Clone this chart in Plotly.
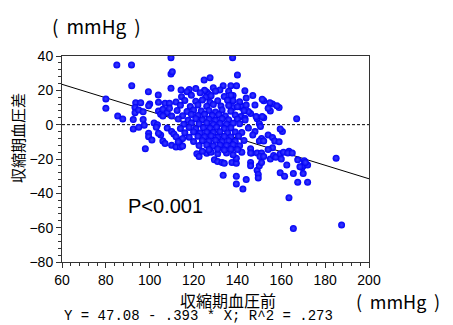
import plotly.graph_objects as go

# ---- data ----
before_outer = [85, 91.7, 109.7, 109.7, 110.3, 91.8, 80, 80, 85.4, 87.7,
                99.4, 103.9, 109.7, 114.3, 124.8, 127.5, 137.8, 140, 133.5, 137,
                139.6, 143.4, 126, 127, 93.6, 95.9, 93.3, 93.3, 95, 92.5,
                92.5, 95, 97, 97.5, 99.5, 99.5, 98, 100, 99.5, 97,
                102, 103.5, 103, 105, 104, 108, 104, 104, 105, 107,
                109, 106, 108, 110, 109, 106, 110, 111, 110, 112,
                114, 115, 114, 115, 121.5, 122.5, 126, 127.5, 129.5, 131,
                133, 134, 133.5, 137.5, 139.5, 139.5, 139.5, 139.5, 142.5, 144,
                146, 146, 149, 150, 149.5, 149.5, 151, 146.5, 149, 151,
                155, 156.5, 157.5, 159.5, 161, 163.5, 159.5, 161.5, 162.5, 165.5,
                167.5, 167.5, 169.5, 170, 170, 170.5, 172, 172, 163.5, 165.5,
                185, 187.5, 138, 138, 138, 142, 152, 156, 159, 155,
                146, 149, 152, 167, 150, 150.5, 160.5, 148, 147, 151,
                150, 152, 154, 156, 157, 159, 156, 154, 146, 146,
                163, 165, 160, 150.3, 152, 158, 159.5, 151.3, 154.8, 154,
                145, 148.5, 151.3, 141.6, 143.4, 141.6, 171, 168.5, 118, 121,
                125, 129, 132, 136, 128, 131, 135, 138, 142, 124,
                101, 106, 112, 107, 144, 147, 148, 113]
diff_outer = [34.8, 34.8, 39, 29.5, 30.8, 22.7, 15, 9.5, 5, 3.3,
              19.2, 17.3, 21.2, 20.2, 26, 27.4, 39, 29, 22.7, 22.7,
              22.7, 19.8, 19, 17.7, 12.8, 12.8, 10, 7, 8.5, 3,
              -2.5, -1.5, 3, -0.3, -5, -7, -14, 12, 11, 7.5,
              1, 0, -1.5, -6, -5, -2, 13, 8, 6, 12.5,
              12.5, 9, 7, 5, 9.5, 5, -4, -5.5, -12, -13,
              -13, -12.5, -9, -8, -17, -18.5, -16.7, -15.7, -20.5, -21.5,
              -22, -22.5, -29.5, -22, -22.5, -19.5, -30, -34.5, -37.5, -32,
              -22, -24, -26.5, -24, -29, -31, -22, -16.5, -16.5, -16.5,
              -20, -18, -19, -17, -16, -15.5, -28, -30, -23.5, -28.5,
              -20.5, -33.5, -25, -24, -28.5, -21, -23.5, -33.5, -42.5, -60.5,
              -19.5, -58.5, 17, 14, 10, 10, 14, 12, 10, 8,
              6.5, 3.5, 4, 3.5, 0.5, -1, -4, -4, -6, -8,
              -9.5, -9.5, -6, -7.5, -9.5, -10, -13.5, -14.5, -14, -16.5,
              -16.5, -16.5, -20, -18.5, -18.5, 11, -2.5, 14.8, 12.8, 9.5,
              7.6, 4.7, 4.7, 4.7, 3.7, 11, -22, -24.5, 20.5, 21,
              20, 21.5, 20.2, 19.5, -16, -17, -16.5, -17.5, -16, -15.5,
              -9, -9.5, -7, -11, 15.5, 17, 11.5, -10]

before_core = [117, 123, 130,
               114.5, 119, 125.5, 128, 134, 137,
               112, 116, 121, 124, 127.5, 131, 135.5, 141,
               114, 118.5, 122, 126, 129, 132.5, 136, 140, 144,
               112.5, 117, 120, 123.5, 127, 130, 133, 137, 143,
               115, 119, 122, 125, 128.5, 131.5, 134.5, 139,
               113, 117.5, 121, 124, 127, 130, 133, 136, 140, 143.5,
               115.5, 119, 122.5, 126, 129, 132, 135, 138, 141,
               114, 118, 121, 124.5, 127.5, 130.5, 134, 137, 145,
               116, 120, 123, 126, 129, 132, 135.5, 139, 142,
               118, 122, 125, 128, 131, 134, 137, 140.5,
               120, 124, 127, 130, 133, 136, 139, 143,
               122.5, 126, 129, 132, 135, 138, 141,
               127, 131, 134, 137, 140]
diff_core = [19.2, 18.6, 19.5,
             16.3, 17.1, 16.0, 16.9, 16.4, 17.2,
             13.2, 14.1, 13.6, 14.4, 13.0, 13.9, 14.2, 13.4,
             11.3, 10.6, 11.5, 10.8, 11.7, 10.9, 11.2, 10.5, 11.4,
             8.3, 7.6, 8.5, 7.9, 8.2, 7.4, 8.6, 7.8, 8.1,
             5.2, 5.9, 5.4, 6.0, 5.3, 5.8, 5.1, 5.6,
             3.3, 2.6, 3.5, 2.8, 3.1, 2.5, 3.4, 2.9, 3.2, 2.7,
             0.2, 0.9, 0.4, 1.0, 0.1, 0.7, 0.3, 0.8, 0.5,
             -2.2, -1.6, -2.4, -1.8, -2.1, -1.5, -2.3, -1.9, -2.0,
             -4.7, -4.2, -4.9, -4.4, -4.6, -4.1, -4.8, -4.3, -4.5,
             -7.3, -6.8, -7.1, -6.6, -7.4, -6.9, -7.2, -6.7,
             -9.8, -9.3, -9.6, -9.1, -9.9, -9.4, -9.7, -9.2,
             -12.2, -11.8, -12.4, -11.9, -12.1, -11.7, -12.3,
             -14.6, -14.2, -14.8, -14.3, -14.5]

intercept = 47.08
slope = -0.393
x_ticks = [60, 80, 100, 120, 140, 160, 180, 200]
y_ticks = [-80, -60, -40, -20, 0, 20, 40]
x_range = [60, 200]
y_range = [-80, 40]

fig = go.Figure()

# regression line across the axis range
fig.add_trace(go.Scatter(
    x=x_range, y=[intercept + slope * v for v in x_range],
    mode="lines", line=dict(color="black", width=1), hoverinfo="skip"))

# zero reference line (dashed)
fig.add_trace(go.Scatter(
    x=x_range, y=[0, 0], mode="lines",
    line=dict(color="black", width=1, dash="3px,2px"), hoverinfo="skip"))

marker = dict(color="#0000f5", size=7,
              gradient=dict(type="radial", color="#3c3cff"),
              line=dict(width=0))
fig.add_trace(go.Scatter(x=before_outer, y=diff_outer, mode="markers", marker=marker))
fig.add_trace(go.Scatter(x=before_core, y=diff_core, mode="markers", marker=marker))

axis_common = dict(showline=True, linecolor="#333333", linewidth=1, mirror=True,
                   ticks="outside", ticklen=5, tickwidth=1, tickcolor="#333333",
                   showgrid=False, zeroline=False,
                   tickfont=dict(family="Liberation Sans, Arial", size=14, color="black"),
                   minor=dict(ticks="outside", ticklen=3, tickwidth=1,
                              tickcolor="#333333", showgrid=False))

fig.update_xaxes(range=x_range, tickvals=x_ticks, **axis_common)
fig.update_yaxes(range=y_range, tickvals=y_ticks, **axis_common)
fig.update_xaxes(minor_dtick=4, minor_tick0=60, ticklabelstandoff=0)
fig.update_yaxes(minor_dtick=4, minor_tick0=-80)

cjk = "Noto Sans CJK JP"
unit = "(\u2009\u00a0mmHg\u00a0\u2009)"
annotations = [
    dict(text=unit, xref="paper", yref="paper", x=0.114, y=1.146,
         font=dict(family=cjk, size=19)),
    dict(text=unit, xref="paper", yref="paper", x=1.095, y=-0.189,
         font=dict(family=cjk, size=18)),
    dict(text="収縮期血圧前", xref="paper", yref="paper", x=0.541, y=-0.183,
         font=dict(family=cjk, size=16)),
    dict(text="Y = 47.08 - .393 * X; R^2 = .273", xref="paper", yref="paper",
         x=0.445, y=-0.262, font=dict(family="Liberation Mono", size=14)),
    dict(text="収縮期血圧差", xref="paper", yref="paper", x=-0.143, y=0.602,
         textangle=-90, font=dict(family=cjk, size=15)),
    dict(text="P&lt;0.001", xref="x", yref="y", x=107, y=-47.5,
         font=dict(family="Liberation Sans, Arial", size=20)),
]
for a in annotations:
    a.update(showarrow=False, xanchor="center", yanchor="middle")
    a["font"]["color"] = "black"

# the page body adds an 8px offset, so the figure is 8px smaller than the window
fig.update_layout(
    width=445, height=317,
    margin=dict(l=54, r=84, t=48, b=63),
    paper_bgcolor="white", plot_bgcolor="white",
    showlegend=False,
    annotations=annotations,
)

fig.write_html("out.html")
